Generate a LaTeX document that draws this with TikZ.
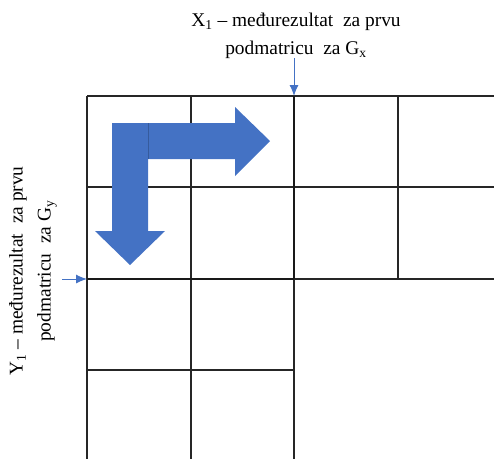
\documentclass[tikz,border=0pt]{standalone}
\usepackage{fontspec}
\setmainfont{Liberation Serif}
\usetikzlibrary{arrows.meta}
\definecolor{officeblue}{RGB}{68,114,196}
\begin{document}
\begin{tikzpicture}[x=1pt, y=-1pt, >={Latex[length=11pt,width=9pt]},
  font=\fontsize{19.4}{28}\selectfont,
  mreza/.style={line width=1.3pt, black!85},
  oznaka/.style={align=center, inner sep=0pt}]
  \useasboundingbox (0,0) rectangle (494,459);
  % mreza
  \foreach \y/\xk in {96/494,187/494,279/494,370/294}{
    \draw[mreza] (87,\y) -- (\xk,\y);
  }
  \foreach \x/\yk in {87/459,191/459,294/459,398/279}{
    \draw[mreza] (\x,96) -- (\x,\yk);
  }
  \draw[line width=1.8pt, black!90] (294,96) -- (294,279) (87,279) -- (294,279);
  % smjer prolaza
  \fill[officeblue] (112,123) -- (235,123) -- (235,107) -- (270,141) -- (235,176) -- (235,159) -- (112,159) -- cycle;
  \fill[officeblue] (112,123) -- (148,123) -- (148,231) -- (165,231) -- (130,265) -- (95,231) -- (112,231) -- cycle;
  \draw[officeblue!80!black, line width=0.5pt] (148,123) -- (148,159);
  % oznake
  \node[oznaka] (xlbl) at (296,36) {X\textsubscript{1} – međurezultat~ za prvu\\podmatricu~ za G\textsubscript{x}};
  \node[oznaka, rotate=90] (ylbl) at (33,271) {Y\textsubscript{1} – međurezultat~ za prvu\\podmatricu~ za G\textsubscript{y}};
  \coordinate (xpoc) at (294,58);
  \coordinate (xkraj) at (294,96);
  \coordinate (ypoc) at (62,279);
  \coordinate (ykraj) at (87,279);
  \draw[->, officeblue, line width=1pt] (xpoc) -- (xkraj);
  \draw[->, officeblue, line width=1pt] (ypoc) -- (ykraj);
\end{tikzpicture}
\end{document}
